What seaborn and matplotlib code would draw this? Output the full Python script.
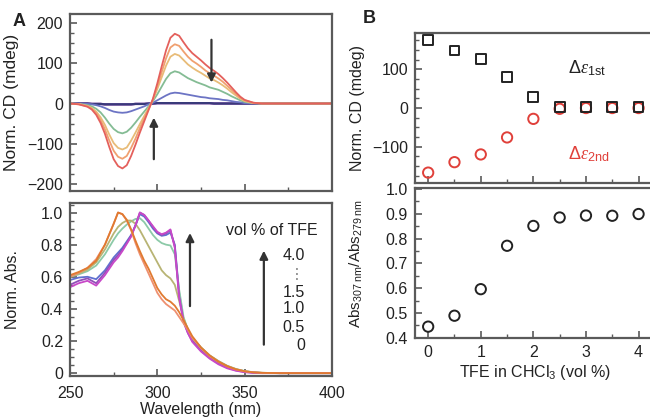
import seaborn as sns
import matplotlib
matplotlib.use('Agg')
import matplotlib.pyplot as plt
from matplotlib.ticker import MultipleLocator, FixedFormatter, FixedLocator


#-------------- data --------------
# panel A, CD spectra (mdeg) vs wavelength
wl_cd = [250, 255, 260, 262.5, 265, 267.5, 270, 272.5, 275, 277.5, 280, 282.5, 285, 287.5, 290,
         292.5, 295, 297.5, 300, 302.5, 305, 307.5, 310, 312.5, 315, 317.5, 320, 322.5, 325, 327.5,
         330, 332.5, 335, 337.5, 340, 342.5, 345, 347.5, 350, 355, 360, 370, 380, 390, 400]
cd_0 = [0, -2, -8, -15, -28, -48, -75, -108, -138, -155, -161, -153, -130, -102, -72, -44, -16, 12, 50, 92,
        132, 163, 173, 168, 152, 137, 125, 116, 107, 97, 88, 81, 73, 63, 52, 40, 28, 17, 9, 2, 0, 0, 0, 0, 0]
cd_05 = [0, -2, -7, -13, -24, -41, -64, -92, -117, -132, -137, -130, -110, -87, -61, -37, -14, 10, 43, 78,
         112, 139, 147, 143, 129, 116, 106, 99, 91, 82, 75, 69, 62, 54, 44, 34, 24, 14, 8, 2, 0, 0, 0, 0, 0]
cd_10 = [0, -1, -6, -11, -20, -34, -53, -77, -98, -110, -114, -109, -92, -72, -51, -31, -11, 9, 36, 65,
         94, 116, 123, 119, 108, 97, 89, 82, 76, 69, 62, 58, 52, 45, 37, 28, 20, 12, 6, 1, 0, 0, 0, 0, 0]
cd_15 = [0, -1, -4, -7, -13, -22, -35, -50, -63, -71, -74, -70, -60, -47, -33, -20, -7, 6, 23, 42,
         61, 75, 80, 77, 70, 63, 58, 53, 49, 45, 40, 37, 34, 29, 24, 18, 13, 8, 4, 1, 0, 0, 0, 0, 0]
cd_20 = [0, 0, -1, -2, -4, -7, -11, -16, -20, -22, -23, -22, -19, -15, -11, -7, -2, 2, 8, 14,
         20, 25, 27, 26, 24, 22, 20, 18, 16, 15, 13, 12, 11, 9, 8, 6, 4, 3, 1, 0, 0, 0, 0, 0, 0]
cd_flat = [0, 0, 0, -1, -1, -1, -2, -2, -2, -2, -2, -2, -2, -1, -1, -1, 0, 0, 1, 1,
           1, 1, 1, 1, 1, 1, 1, 1, 1, 1, 1, 0, 0, 0, 0, 0, 0, 0, 0, 0, 0, 0, 0, 0, 0]

# panel A, normalised absorbance vs wavelength
wl_abs = [250, 255, 260, 265, 270, 275, 277.5, 280, 282.5, 285, 287.5, 290, 292.5, 295, 297.5, 300,
          302.5, 305, 307.5, 310, 312.5, 315, 317.5, 320, 325, 330, 335, 340, 345, 350, 355, 360,
          370, 380, 390, 400]
abs_0 = [0.60, 0.625, 0.655, 0.71, 0.80, 0.93, 1.0, 0.99, 0.95, 0.89, 0.81, 0.74, 0.68, 0.62, 0.56, 0.50,
         0.46, 0.43, 0.41, 0.39, 0.35, 0.31, 0.27, 0.22, 0.155, 0.105, 0.07, 0.042, 0.023, 0.011, 0.005, 0.002,
         0, 0, 0, 0]
abs_05 = [0.61, 0.63, 0.655, 0.70, 0.80, 0.93, 1.0, 0.99, 0.955, 0.895, 0.825, 0.76, 0.70, 0.65, 0.59, 0.53,
          0.49, 0.46, 0.445, 0.42, 0.38, 0.33, 0.28, 0.23, 0.16, 0.11, 0.072, 0.044, 0.024, 0.012, 0.005, 0.002,
          0, 0, 0, 0]
abs_10 = [0.60, 0.62, 0.645, 0.69, 0.77, 0.87, 0.91, 0.935, 0.95, 0.95, 0.93, 0.89, 0.84, 0.79, 0.74, 0.69,
          0.64, 0.61, 0.59, 0.55, 0.45, 0.34, 0.27, 0.22, 0.16, 0.11, 0.075, 0.045, 0.025, 0.012, 0.005, 0.002,
          0, 0, 0, 0]
abs_15 = [0.60, 0.615, 0.635, 0.67, 0.74, 0.83, 0.87, 0.90, 0.925, 0.945, 0.96, 0.965, 0.94, 0.90, 0.86, 0.83,
          0.81, 0.80, 0.795, 0.74, 0.52, 0.35, 0.27, 0.22, 0.16, 0.11, 0.075, 0.046, 0.026, 0.013, 0.006, 0.002,
          0, 0, 0, 0]
abs_20 = [0.58, 0.595, 0.60, 0.585, 0.64, 0.72, 0.75, 0.78, 0.82, 0.86, 0.92, 0.99, 0.975, 0.94, 0.90, 0.87,
          0.855, 0.86, 0.875, 0.80, 0.50, 0.33, 0.26, 0.21, 0.15, 0.10, 0.065, 0.038, 0.02, 0.009, 0.004, 0.001,
          0, 0, 0, 0]
abs_30 = [0.55, 0.575, 0.59, 0.56, 0.625, 0.705, 0.735, 0.77, 0.81, 0.855, 0.92, 1.0, 0.985, 0.95, 0.91, 0.875,
          0.86, 0.87, 0.89, 0.79, 0.48, 0.32, 0.25, 0.20, 0.14, 0.095, 0.06, 0.034, 0.017, 0.007, 0.003, 0.001,
          0, 0, 0, 0]
abs_40 = [0.535, 0.56, 0.575, 0.545, 0.61, 0.69, 0.72, 0.76, 0.805, 0.85, 0.92, 1.0, 0.985, 0.95, 0.915, 0.88,
          0.865, 0.875, 0.895, 0.78, 0.47, 0.32, 0.25, 0.195, 0.135, 0.09, 0.055, 0.03, 0.015, 0.006, 0.002, 0,
          0, 0, 0, 0]

# panel B, titration
tfe = [0, 0.5, 1.0, 1.5, 2.0, 2.5, 3.0, 3.5, 4.0]
de_1st = [176, 149, 127, 81, 29, 2, 2, 2, 2]
de_2nd = [-167, -140, -120, -76, -28, -2, 0, 0, 0]
abs_ratio = [0.445, 0.489, 0.596, 0.771, 0.851, 0.885, 0.893, 0.892, 0.899]

legend_vals = ['4.0', '\u22ee', '1.5', '1.0', '0.5', '0']
legend_ys = [0.73, 0.615, 0.50, 0.40, 0.285, 0.17]


#-------------- style --------------
sns.set_theme(style='ticks')
plt.rcParams['font.family'] = ['Liberation Sans', 'DejaVu Sans']
plt.rcParams['mathtext.fontset'] = 'custom'
plt.rcParams['mathtext.rm'] = 'Liberation Sans'
plt.rcParams['mathtext.it'] = 'Liberation Serif:italic'

spine_col = '#5a5a5a'
txt_col = '#222222'


def style_axes(ax, pad=5):
    for s in ax.spines.values():
        s.set_color(spine_col)
        s.set_linewidth(1.6)
    ax.tick_params(which='both', direction='in', colors=spine_col, labelcolor=txt_col,
                   labelsize=11.5, top=False, right=False, pad=pad)
    ax.tick_params(which='major', length=5, width=1.2)
    ax.tick_params(which='minor', length=3, width=1.0)


fig = plt.figure(figsize=(6.5, 4.18), dpi=100)

#-------------- panel A top: CD --------------
axA1 = fig.add_axes([0.1077, 0.543, 0.403, 0.4235])
for vals, c in [(cd_flat, '#c050c0'), (cd_flat, '#8060b0'), (cd_flat, '#3a3a7a')]:
    sns.lineplot(x=wl_cd, y=vals, color=c, lw=1.6, ax=axA1)
for vals, c in [(cd_20, '#6c74c4'), (cd_15, '#84bc94'), (cd_10, '#e8bc78'),
                (cd_05, '#f0a070'), (cd_0, '#e4605c')]:
    sns.lineplot(x=wl_cd, y=vals, color=c, lw=1.3, ax=axA1)
axA1.set_xlim(250, 400)
axA1.set_ylim(-217, 222)
axA1.xaxis.set_major_locator(MultipleLocator(50))
axA1.xaxis.set_minor_locator(MultipleLocator(25))
axA1.set_xticklabels([])
axA1.yaxis.set_major_locator(MultipleLocator(100))
axA1.yaxis.set_minor_locator(MultipleLocator(25))
axA1.set_ylabel('Norm. CD (mdeg)', fontsize=12.5, color=txt_col)
axA1.yaxis.set_label_coords(-0.195, 0.5)
style_axes(axA1)
axA1.annotate('', xy=(331, 45), xytext=(331, 165),
              arrowprops=dict(arrowstyle='-|>', color='#333333', lw=1.6, mutation_scale=12))
axA1.annotate('', xy=(298, -28), xytext=(298, -145),
              arrowprops=dict(arrowstyle='-|>', color='#333333', lw=1.6, mutation_scale=12))

#-------------- panel A bottom: Abs --------------
axA2 = fig.add_axes([0.1077, 0.100, 0.403, 0.4146])
for vals, c in [(abs_20, '#6070d0'), (abs_15, '#8ccaa8'), (abs_10, '#b8b474'),
                (abs_30, '#9050b8'), (abs_40, '#c848c8'), (abs_0, '#ee9070'), (abs_05, '#e07a30')]:
    sns.lineplot(x=wl_abs, y=vals, color=c, lw=1.3, ax=axA2)
axA2.set_xlim(250, 400)
axA2.set_ylim(-0.019, 1.06)
axA2.xaxis.set_major_locator(MultipleLocator(50))
axA2.xaxis.set_minor_locator(MultipleLocator(25))
axA2.yaxis.set_major_locator(FixedLocator([0, 0.2, 0.4, 0.6, 0.8, 1.0]))
axA2.yaxis.set_major_formatter(FixedFormatter(['0', '0.2', '0.4', '0.6', '0.8', '1.0']))
axA2.yaxis.set_minor_locator(MultipleLocator(0.05))
axA2.set_xlabel('Wavelength (nm)', fontsize=11.5, color=txt_col, labelpad=1)
axA2.set_ylabel('Norm. Abs.', fontsize=11.5, color=txt_col)
axA2.yaxis.set_label_coords(-0.19, 0.5)
style_axes(axA2)
axA2.tick_params(axis='x', which='both', pad=7)
axA2.annotate('', xy=(318.7, 0.89), xytext=(318.7, 0.40),
              arrowprops=dict(arrowstyle='-|>', color='#333333', lw=1.6, mutation_scale=12))
axA2.annotate('', xy=(361, 0.78), xytext=(361, 0.16),
              arrowprops=dict(arrowstyle='-|>', color='#333333', lw=1.6, mutation_scale=12))
axA2.text(392, 0.89, 'vol % of TFE', ha='right', va='center', fontsize=11.5, color=txt_col)
for lab, yy in zip(legend_vals, legend_ys):
    axA2.text(384.5, yy, lab, ha='right', va='center', fontsize=11.5,
              color='#888888' if lab == '\u22ee' else txt_col)

#-------------- panel B top: CD titration --------------
axB1 = fig.add_axes([0.6385, 0.563, 0.369, 0.358])
sns.scatterplot(x=tfe, y=de_2nd, marker='o', s=55, facecolor='none', edgecolor='#e0403a',
                linewidth=1.4, ax=axB1)
sns.scatterplot(x=tfe, y=de_1st, marker='s', s=50, facecolor='none', edgecolor='#222222',
                linewidth=1.4, ax=axB1)
axB1.set_xlim(-0.25, 4.31)
axB1.set_ylim(-193, 194)
axB1.xaxis.set_major_locator(MultipleLocator(1))
axB1.xaxis.set_minor_locator(MultipleLocator(0.5))
axB1.set_xticklabels([])
axB1.yaxis.set_major_locator(MultipleLocator(100))
axB1.yaxis.set_minor_locator(MultipleLocator(25))
axB1.set_ylabel('Norm. CD (mdeg)', fontsize=11.5, color=txt_col)
axB1.yaxis.set_label_coords(-0.21, 0.5)
style_axes(axB1)
axB1.text(2.65, 103, r'$\Delta\mathit{\varepsilon}_{\rm 1st}$', fontsize=13, color=txt_col, va='center')
axB1.text(2.65, -118, r'$\Delta\mathit{\varepsilon}_{\rm 2nd}$', fontsize=13, color='#e0403a', va='center')

#-------------- panel B bottom: Abs ratio --------------
axB2 = fig.add_axes([0.6385, 0.1907, 0.369, 0.359])
sns.scatterplot(x=tfe, y=abs_ratio, marker='o', s=55, facecolor='none', edgecolor='#222222',
                linewidth=1.4, ax=axB2)
axB2.set_xlim(-0.25, 4.31)
axB2.set_ylim(0.398, 1.003)
axB2.xaxis.set_major_locator(MultipleLocator(1))
axB2.xaxis.set_minor_locator(MultipleLocator(0.5))
axB2.yaxis.set_major_locator(MultipleLocator(0.1))
axB2.yaxis.set_minor_locator(MultipleLocator(0.05))
axB2.set_xlabel(r'TFE in CHCl$_3$ (vol %)', fontsize=11.5, color=txt_col, labelpad=2)
axB2.set_ylabel(r'Abs$_{307\ \rm nm}$/Abs$_{279\ \rm nm}$', fontsize=11, color=txt_col)
axB2.yaxis.set_label_coords(-0.21, 0.5)
style_axes(axB2)

fig.text(0.02, 0.949, 'A', fontsize=13, fontweight='bold', color=txt_col, va='center')
fig.text(0.558, 0.955, 'B', fontsize=13, fontweight='bold', color=txt_col, va='center')

fig.savefig('out.png', dpi=100)
